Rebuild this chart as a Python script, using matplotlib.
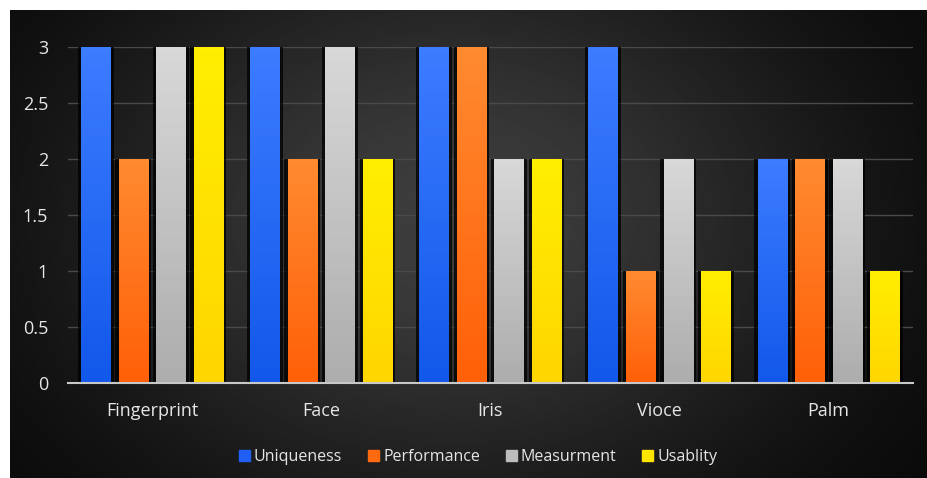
import numpy as np
import matplotlib
matplotlib.use("Agg")
import matplotlib.pyplot as plt
from matplotlib.colors import LinearSegmentedColormap

# Data
categories = ["Fingerprint", "Face", "Iris", "Vioce", "Palm"]
uniqueness = [3, 3, 3, 3, 2]
performance = [2, 2, 3, 1, 2]
measurment = [3, 3, 2, 2, 2]
usablity = [3, 2, 2, 1, 1]
series_names = ["Uniqueness", "Performance", "Measurment", "Usablity"]
y_ticks = [0, 0.5, 1, 1.5, 2, 2.5, 3]
y_labels = ["0", "0.5", "1", "1.5", "2", "2.5", "3"]

# top / bottom colour of each bar gradient
grad_colors = [("#3c7cff", "#1258ea"),
               ("#ff8a30", "#ff6008"),
               ("#d8d8d8", "#adadad"),
               ("#ffee00", "#ffd600")]
legend_colors = ["#1f5ff5", "#ff6a10", "#bdbdbd", "#ffe400"]

plt.rcParams["font.family"] = ["Open Sans", "DejaVu Sans"]

W, H = 927, 478
fig = plt.figure(figsize=(W / 100, H / 100), dpi=100)
fig.patch.set_facecolor("#050505")

# white margin along the top and left of the picture
fig.patches.append(plt.Rectangle((0, 0), 10 / W, 1, transform=fig.transFigure,
                                 color="white", zorder=-20))
fig.patches.append(plt.Rectangle((0, 1 - 10 / H), 1, 10 / H, transform=fig.transFigure,
                                 color="white", zorder=-20))

# dark radial background panel
bg = fig.add_axes([10 / W, 0, 1 - 10 / W, 1 - 10 / H])
bg.set_zorder(-10)
yy, xx = np.mgrid[0:1:300j, 0:1:600j]
dist = ((xx - 0.48) / 0.42) ** 2 + ((yy - 0.55) / 0.62) ** 2
shade = 0.02 + 0.22 * np.exp(-dist)
bg.imshow(shade, cmap="gray", vmin=0, vmax=1, aspect="auto",
          extent=[0, 1, 0, 1], origin="lower", interpolation="bilinear")
bg.set_xlim(0, 1)
bg.set_ylim(0, 1)
bg.set_axis_off()

ax = fig.add_axes([67.5 / W, 1 - 383 / H, (913 - 67.5) / W, (383 - 47) / H])
ax.patch.set_alpha(0)

x = np.arange(len(categories))
width = 0.172
step = 0.222
all_series = [uniqueness, performance, measurment, usablity]

for i, (vals, name) in enumerate(zip(all_series, series_names)):
    pos = x + (i - 1.5) * step
    # shadow behind the bar
    ax.bar(pos, vals, width + 0.04, color="black", alpha=0.75, zorder=2,
           linewidth=0)
    bars = ax.bar(pos, vals, width, color=legend_colors[i], zorder=3,
                  linewidth=0, label=name)
    cmap = LinearSegmentedColormap.from_list("g%d" % i, [grad_colors[i][1], grad_colors[i][0]])
    for b in bars:
        bx, by = b.get_x(), b.get_y()
        bw, bh = b.get_width(), b.get_height()
        grad = np.linspace(0, 1, 64).reshape(-1, 1)
        im = ax.imshow(grad, cmap=cmap, aspect="auto", origin="lower",
                       extent=[bx, bx + bw, by, by + bh], zorder=4)
        im.set_clip_path(b)

ax.set_xlim(-0.5, len(categories) - 0.5)
ax.set_ylim(0, 3)
ax.set_yticks(y_ticks)
ax.set_yticklabels(y_labels)
ax.set_xticks(x)
ax.set_xticklabels(categories)
ax.grid(axis="y", color="#4a4a4a", linewidth=1, zorder=0)
ax.set_axisbelow(True)
for s in ["top", "right", "left"]:
    ax.spines[s].set_visible(False)
ax.spines["bottom"].set_color("#c8c8c8")
ax.spines["bottom"].set_linewidth(1.5)
ax.spines["bottom"].set_zorder(5)
ax.tick_params(axis="both", length=0, colors="#e6e6e6", labelsize=13)
ax.tick_params(axis="y", pad=14)
ax.tick_params(axis="x", pad=14)

handles = [plt.Rectangle((0, 0), 1, 1, color=c) for c in legend_colors]
fig.legend(handles, series_names, loc="center", bbox_to_anchor=(478 / W, 1 - 457 / H),
           ncol=4, frameon=False, fontsize=11.5, labelcolor="#e6e6e6",
           handlelength=0.7, handleheight=0.7, handletextpad=0.25, columnspacing=1.6)

fig.savefig("out.png", dpi=100, facecolor=fig.get_facecolor())
